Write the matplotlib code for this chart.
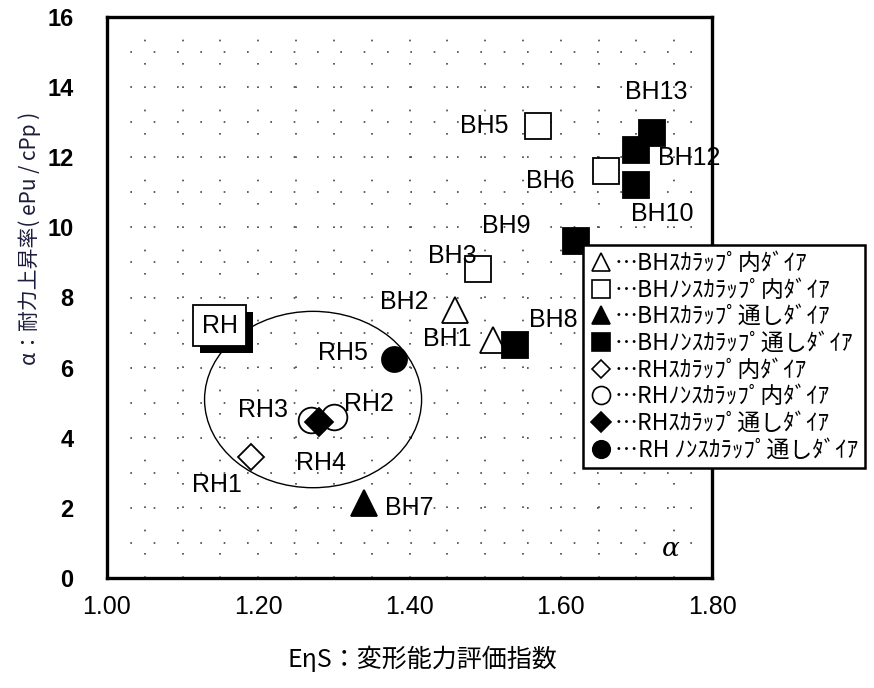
import matplotlib
matplotlib.use("Agg")
import matplotlib.pyplot as plt
import matplotlib.patches as mpatches
import matplotlib.patheffects as pe
from matplotlib.ticker import MultipleLocator, FormatStrFormatter

# --- DATA ---
bh_scallop_in_x = [1.51, 1.46]
bh_scallop_in_y = [6.8, 7.65]
bh_scallop_in_names = ["BH1", "BH2"]

bh_nonscallop_in_x = [1.49, 1.57, 1.66]
bh_nonscallop_in_y = [8.8, 12.9, 11.6]
bh_nonscallop_in_names = ["BH3", "BH5", "BH6"]

bh_scallop_thru_x = [1.34]
bh_scallop_thru_y = [2.15]
bh_scallop_thru_names = ["BH7"]

bh_nonscallop_thru_x = [1.54, 1.62, 1.70, 1.70, 1.72]
bh_nonscallop_thru_y = [6.65, 9.6, 11.2, 12.2, 12.7]
bh_nonscallop_thru_names = ["BH8", "BH9", "BH10", "BH12", "BH13"]

rh_scallop_in_x = [1.19]
rh_scallop_in_y = [3.45]
rh_scallop_in_names = ["RH1"]

rh_nonscallop_in_x = [1.30, 1.27]
rh_nonscallop_in_y = [4.6, 4.5]
rh_nonscallop_in_names = ["RH2", "RH3"]

rh_scallop_thru_x = [1.28]
rh_scallop_thru_y = [4.45]
rh_scallop_thru_names = ["RH4"]

rh_nonscallop_thru_x = [1.38]
rh_nonscallop_thru_y = [6.25]
rh_nonscallop_thru_names = ["RH5"]

legend_labels = [
    "…BHｽｶﾗｯﾌﾟ内ﾀﾞｲｱ",
    "…BHﾉﾝｽｶﾗｯﾌﾟ内ﾀﾞｲｱ",
    "…BHｽｶﾗｯﾌﾟ通しﾀﾞｲｱ",
    "…BHﾉﾝｽｶﾗｯﾌﾟ通しﾀﾞｲｱ",
    "…RHｽｶﾗｯﾌﾟ内ﾀﾞｲｱ",
    "…RHﾉﾝｽｶﾗｯﾌﾟ内ﾀﾞｲｱ",
    "…RHｽｶﾗｯﾌﾟ通しﾀﾞｲｱ",
    "…RH ﾉﾝｽｶﾗｯﾌﾟ通しﾀﾞｲｱ",
]

# label offsets in pixels (layout only)
label_offsets = {
    "BH1": (-45, 1), "BH2": (-51, 8), "BH3": (-25, 13), "BH5": (-54, 0),
    "BH6": (-56, -10), "BH7": (45, -5), "BH8": (38, 25), "BH9": (-70, 15),
    "BH10": (26, -29), "BH12": (53, -8), "BH13": (5, 41),
    "RH1": (-34, -28), "RH2": (35, 13), "RH3": (-48, 10), "RH4": (2, -41),
    "RH5": (-51, 6),
}

series = [
    (bh_scallop_in_x, bh_scallop_in_y, bh_scallop_in_names, "^", "white", 19),
    (bh_nonscallop_in_x, bh_nonscallop_in_y, bh_nonscallop_in_names, "s", "white", 18.5),
    (bh_scallop_thru_x, bh_scallop_thru_y, bh_scallop_thru_names, "^", "black", 19),
    (bh_nonscallop_thru_x, bh_nonscallop_thru_y, bh_nonscallop_thru_names, "s", "black", 19),
    (rh_scallop_in_x, rh_scallop_in_y, rh_scallop_in_names, "D", "white", 13.5),
    (rh_nonscallop_in_x, rh_nonscallop_in_y, rh_nonscallop_in_names, "o", "white", 18.5),
    (rh_scallop_thru_x, rh_scallop_thru_y, rh_scallop_thru_names, "D", "black", 14),
    (rh_nonscallop_thru_x, rh_nonscallop_thru_y, rh_nonscallop_thru_names, "o", "black", 18),
]

jp = ["Noto Sans CJK JP", "DejaVu Sans"]
num_font = "Liberation Sans"

fig = plt.figure(figsize=(8.74, 6.88), dpi=100)
ax = fig.add_axes([107 / 874, 1 - 578 / 688, (712 - 107) / 874, (578 - 17) / 688])

ax.set_xlim(1.0, 1.8)
ax.set_ylim(0, 16)
ax.xaxis.set_major_locator(MultipleLocator(0.2))
ax.xaxis.set_minor_locator(MultipleLocator(0.05))
ax.yaxis.set_major_locator(MultipleLocator(2))
ax.yaxis.set_minor_locator(MultipleLocator(1))
ax.xaxis.set_major_formatter(FormatStrFormatter("%.2f"))
ax.tick_params(which="both", length=0)
ax.tick_params(axis="y", pad=24)
ax.tick_params(axis="x", pad=12)
for lab in ax.get_yticklabels():
    lab.set_fontfamily(num_font)
    lab.set_fontweight("bold")
    lab.set_fontsize(17)
for lab in ax.get_xticklabels():
    lab.set_fontfamily(num_font)
    lab.set_fontsize(18)
ax.grid(which="both", color="#444444", linewidth=1.2, linestyle=(0, (1, 13)))
for sp in ax.spines.values():
    sp.set_linewidth(2.4)

handles = []
for (xs, ys, names, marker, face, ms), lab in zip(series, legend_labels):
    ax.plot(xs, ys, linestyle="none", marker=marker, markersize=ms,
            markerfacecolor=face, markeredgecolor="black", markeredgewidth=1.3,
            zorder=4, clip_on=False)
    hs = ms * 0.7
    handles.append(ax.plot([], [], linestyle="none", marker=marker, markersize=hs,
                           markerfacecolor=face, markeredgecolor="black",
                           markeredgewidth=1.2)[0])
    for x, y, n in zip(xs, ys, names):
        dx, dy = label_offsets[n]
        ax.annotate(n, (x, y), xytext=(dx, dy), textcoords="offset pixels",
                    ha="center", va="center", fontsize=18, family=num_font, zorder=5)

# RH grouping ellipse
ax.add_patch(mpatches.Ellipse((1.2725, 5.09), 0.287, 5.03, fill=False,
                              edgecolor="black", linewidth=1.0, zorder=3))

# shadowed "RH" box
t = ax.text(1.149, 7.2, "RH", ha="center", va="center", fontsize=18,
            family=num_font, zorder=6,
            bbox=dict(boxstyle="square,pad=0.35", facecolor="white",
                      edgecolor="black", linewidth=1.3))
t.get_bbox_patch().set_path_effects([
    pe.SimplePatchShadow(offset=(5, -5), shadow_rgbFace="black", alpha=1.0),
    pe.Normal()])

ax.text(1.745, 0.85, "α", fontsize=19, style="italic", family="DejaVu Serif",
        ha="center", va="center")

leg = fig.legend(handles, legend_labels, loc="upper left",
                 bbox_to_anchor=(583 / 874, 1 - 245 / 688), borderaxespad=0,
                 prop={"family": jp, "size": 16.5}, handlelength=1.0,
                 handletextpad=0.1, labelspacing=0.16, borderpad=0.3,
                 fancybox=False, framealpha=1, edgecolor="black")
leg.get_frame().set_linewidth(1.8)

fig.text(422 / 874, 1 - 660 / 688, "EηS：変形能力評価指数", ha="center", va="center",
         fontsize=18, family=jp)
fig.text(30 / 874, 1 - 238 / 688, "α：耐力上昇率( ePu / cPp )", rotation=90,
         ha="center", va="center", fontsize=15, family=jp, color="#1c1c3c")

fig.savefig("out.png", dpi=100)
